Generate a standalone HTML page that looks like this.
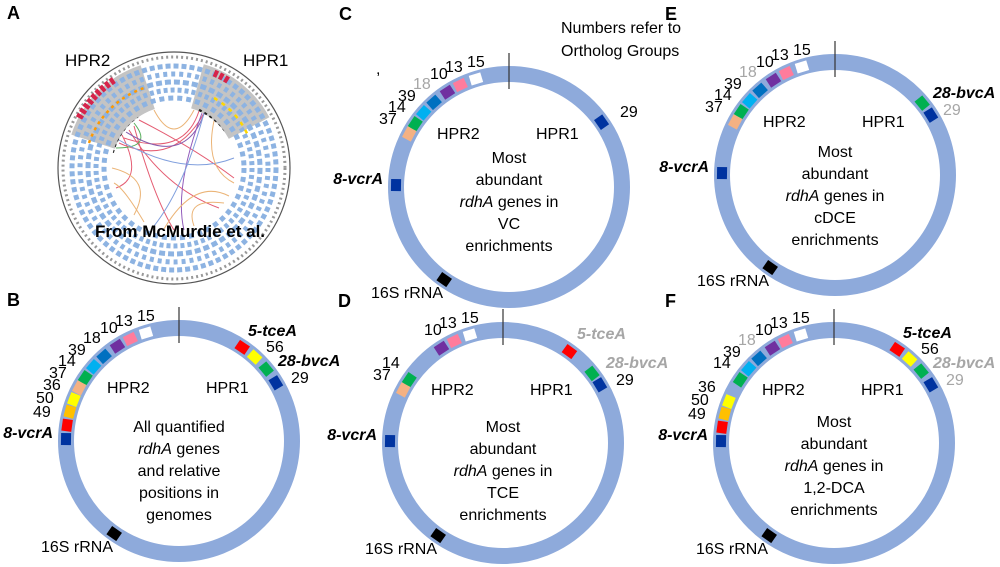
<!DOCTYPE html>
<html><head><meta charset="utf-8"><style>
html,body{margin:0;padding:0;background:#fff;}
svg{display:block;font-family:"Liberation Sans",sans-serif;}
.n{font-size:16px;fill:#000;}
.g{fill:#a6a6a6;}
.b{font-weight:bold;font-style:italic;}
.c{font-size:16px;text-anchor:middle;}
.L{font-size:18px;font-weight:bold;}
</style></head><body>
<svg width="1000" height="567" viewBox="0 0 1000 567" xmlns="http://www.w3.org/2000/svg">
<defs>
<g id="ring">
<circle r="113" fill="none" stroke="#8eaadb" stroke-width="16"/>
<line x1="0" y1="-134" x2="0" y2="-98" stroke="#333" stroke-width="1.2"/>
<rect x="-6" y="-118" width="12" height="10" fill="#000" transform="rotate(-145)"/>
<text class="n" x="-138" y="111">16S rRNA</text>
<text class="n" x="-72" y="-48">HPR2</text>
<text class="n" x="27" y="-48">HPR1</text>
<rect x="-6" y="-118" width="12" height="10" fill="#0033a0" transform="rotate(-89)"/>
<text class="n b" x="-126" y="-3" text-anchor="end">8-<tspan>vcrA</tspan></text>
<rect x="-6" y="-118" width="12" height="10" fill="#fff" transform="rotate(-17)"/>
<rect x="-6" y="-118" width="12" height="10" fill="#ff7c9c" transform="rotate(-25.5)"/>
<rect x="-6" y="-118" width="12" height="10" fill="#7030a0" transform="rotate(-33)"/>
<text class="n" x="-42" y="-120">15</text>
<text class="n" x="-64" y="-115">13</text>
<text class="n" x="-79" y="-108">10</text>
</g>
<g id="m18"><rect x="-6" y="-118" width="12" height="10" fill="#0070c0" transform="rotate(-41.5)"/></g>
<g id="m39"><rect x="-6" y="-118" width="12" height="10" fill="#00b0f0" transform="rotate(-49)"/><text class="n" x="-111" y="-86">39</text></g>
<g id="m14"><rect x="-6" y="-118" width="12" height="10" fill="#00b050" transform="rotate(-56)"/><text class="n" x="-121" y="-75">14</text></g>
<g id="m37"><rect x="-6" y="-118" width="12" height="10" fill="#f4b183" transform="rotate(-62)"/><text class="n" x="-130" y="-63">37</text></g>
<g id="m365049">
<rect x="-6" y="-118" width="12" height="10" fill="#ffff00" transform="rotate(-68.5)"/>
<rect x="-6" y="-118" width="12" height="10" fill="#ffc000" transform="rotate(-75)"/>
<rect x="-6" y="-118" width="12" height="10" fill="#ff0000" transform="rotate(-82)"/>
<text class="n" x="-136" y="-51">36</text>
<text class="n" x="-143" y="-38">50</text>
<text class="n" x="-146" y="-24">49</text>
</g>
<g id="r5"><rect x="-6" y="-118" width="12" height="10" fill="#ff0000" transform="rotate(34)"/></g>
<g id="r56"><rect x="-6" y="-118" width="12" height="10" fill="#ffff00" transform="rotate(42)"/><text class="n" x="87" y="-89">56</text></g>
<g id="r28"><rect x="-6" y="-118" width="12" height="10" fill="#00b050" transform="rotate(50.5)"/></g>
<g id="r29"><rect x="-6" y="-118" width="12" height="10" fill="#0033a0" transform="rotate(59)"/></g>
</defs>

<!-- Panel letters -->
<text class="L" x="7" y="19">A</text>
<text class="L" x="7" y="306">B</text>
<text class="L" x="339" y="20">C</text>
<text class="L" x="338" y="307">D</text>
<text class="L" x="665" y="20">E</text>
<text class="L" x="665" y="307">F</text>

<text class="n" x="561" y="33">Numbers refer to</text>
<text class="n" x="561" y="56">Ortholog Groups</text>
<text class="n" x="376" y="74" font-size="12">,</text>

<!-- Panel A -->
<g transform="translate(174,168)">
<circle r="116" fill="none" stroke="#555" stroke-width="1.2"/>
<circle r="111" fill="none" stroke="#999" stroke-width="3" stroke-dasharray="2 3"/>
<path d="M-102.7,-33.4 A108,108 0 0 1 -33.4,-102.7 L-19.2,-59 A62,62 0 0 0 -59,-19.2Z" fill="#c4c4c4"/>
<path d="M29.8,-103.8 A108,108 0 0 1 95.4,-50.7 L54.7,-29.1 A62,62 0 0 0 17.1,-59.6Z" fill="#c4c4c4"/>
<g fill="none" stroke="#8db3e2" stroke-width="5">
<circle r="102" stroke-dasharray="5 3"/>
<circle r="94" stroke-dasharray="4 4"/>
<circle r="86" stroke-dasharray="6 3"/>
<circle r="78" stroke-dasharray="4 3"/>
<circle r="70" stroke-dasharray="5 4"/>
</g>
<g fill="none" stroke="#d6244a" stroke-width="7" stroke-dasharray="4 2">
<path d="M-95,-50 A108,108 0 0 1 -60,-88"/>
<path d="M40,-95 A103,103 0 0 1 55,-87"/>
</g>
<g fill="none" stroke-width="2.5">
<path d="M-85,-25 A88,88 0 0 1 -30,-80" stroke="#ff9900" stroke-dasharray="3 4"/>
<path d="M40,-70 A80,80 0 0 1 75,-30" stroke="#ffd800" stroke-dasharray="4 5"/>
<path d="M-60,-15 A62,62 0 0 1 -35,-50" stroke="#222" stroke-dasharray="3 3"/>
<path d="M25,-58 A62,62 0 0 1 50,-35" stroke="#222" stroke-dasharray="3 3"/>
</g>
<circle r="62" fill="#fff"/>
<g fill="none" stroke-width="1" opacity="0.85">
<path d="M-55,-25 Q0,0 30,-55" stroke="#e0405a"/>
<path d="M-50,-30 Q10,-10 25,-57" stroke="#e0405a"/>
<path d="M-45,-38 Q-10,20 45,40" stroke="#e0405a"/>
<path d="M-40,-42 Q-20,30 0,62" stroke="#e0405a"/>
<path d="M-52,-33 Q-30,10 -58,20" stroke="#e0405a"/>
<path d="M-35,-48 Q20,-20 60,10" stroke="#e0405a"/>
<path d="M-58,-20 Q-20,-20 -40,-45" stroke="#3aa040"/>
<path d="M-48,-36 Q10,0 30,-54" stroke="#7040a0"/>
<path d="M28,-55 Q0,20 10,62" stroke="#8040b0"/>
<path d="M30,-55 Q10,20 -20,58" stroke="#6b8fd8"/>
<path d="M-55,-28 Q10,10 60,-10" stroke="#6b8fd8"/>
<path d="M-20,-58 Q0,-20 20,-58" stroke="#e8a860"/>
<path d="M40,-47 Q30,0 60,15" stroke="#e8a860"/>
<path d="M-62,0 Q-20,10 -40,47" stroke="#e8a860"/>
<path d="M20,58 Q10,30 50,35" stroke="#e8a860"/>
<path d="M-10,61 Q20,10 55,28" stroke="#e8a860"/>
<path d="M-30,54 Q-50,20 -60,15" stroke="#e8a860"/>
</g>
</g>
<text x="65" y="66" font-size="17">HPR2</text>
<text x="243" y="66" font-size="17">HPR1</text>
<text x="95" y="237" font-size="17" font-weight="bold">From McMurdie et al.</text>

<!-- Panel B -->
<g transform="translate(179,441)">
<use href="#ring"/><use href="#m18"/><text class="n" x="-96" y="-98">18</text>
<use href="#m39"/><use href="#m14"/><use href="#m37"/><use href="#m365049"/>
<use href="#r5"/><text class="n b" x="69" y="-105">5-tceA</text>
<use href="#r56"/><use href="#r28"/><text class="n b" x="99" y="-75">28-bvcA</text>
<use href="#r29"/><text class="n" x="112" y="-58">29</text>
<text class="c" y="-9">All quantified</text>
<text class="c" y="13"><tspan font-style="italic">rdhA</tspan> genes</text>
<text class="c" y="35">and relative</text>
<text class="c" y="57">positions in</text>
<text class="c" y="79">genomes</text>
</g>

<!-- Panel C -->
<g transform="translate(509,187)">
<use href="#ring"/><use href="#m18"/><text class="n g" x="-96" y="-98">18</text>
<use href="#m39"/><use href="#m14"/><use href="#m37"/>
<rect x="-6" y="-118" width="12" height="10" fill="#0033a0" transform="rotate(55)"/>
<text class="n" x="111" y="-70">29</text>
<text class="c" y="-24">Most</text>
<text class="c" y="-2">abundant</text>
<text class="c" y="20"><tspan font-style="italic">rdhA</tspan> genes in</text>
<text class="c" y="42">VC</text>
<text class="c" y="64">enrichments</text>
</g>

<!-- Panel D -->
<g transform="translate(503,443)">
<use href="#ring"/><use href="#m14"/><use href="#m37"/>
<rect x="-6" y="-118" width="12" height="10" fill="#ff0000" transform="rotate(36)"/>
<text class="n b g" x="74" y="-104">5-tceA</text>
<rect x="-6" y="-118" width="12" height="10" fill="#00b050" transform="rotate(52)"/>
<text class="n b g" x="103" y="-75">28-bvcA</text>
<use href="#r29"/><text class="n" x="113" y="-58">29</text>
<text class="c" y="-11">Most</text>
<text class="c" y="11">abundant</text>
<text class="c" y="33"><tspan font-style="italic">rdhA</tspan> genes in</text>
<text class="c" y="55">TCE</text>
<text class="c" y="77">enrichments</text>
</g>

<!-- Panel E -->
<g transform="translate(835,175)">
<use href="#ring"/><use href="#m18"/><text class="n g" x="-96" y="-98">18</text>
<use href="#m39"/><use href="#m14"/><use href="#m37"/>
<use href="#r28"/><text class="n b" x="98" y="-77">28-bvcA</text>
<rect x="-6" y="-118" width="12" height="10" fill="#0033a0" transform="rotate(58)"/>
<text class="n g" x="108" y="-60">29</text>
<text class="c" y="-18">Most</text>
<text class="c" y="4">abundant</text>
<text class="c" y="26"><tspan font-style="italic">rdhA</tspan> genes in</text>
<text class="c" y="48">cDCE</text>
<text class="c" y="70">enrichments</text>
</g>

<!-- Panel F -->
<g transform="translate(834,443)">
<use href="#ring"/><use href="#m18"/><text class="n g" x="-96" y="-98">18</text>
<use href="#m39"/><use href="#m14"/><use href="#m365049"/>
<use href="#r5"/><text class="n b" x="69" y="-105">5-tceA</text>
<use href="#r56"/><use href="#r28"/><text class="n b g" x="99" y="-75">28-bvcA</text>
<use href="#r29"/><text class="n g" x="112" y="-58">29</text>
<text class="c" y="-16">Most</text>
<text class="c" y="6">abundant</text>
<text class="c" y="28"><tspan font-style="italic">rdhA</tspan> genes in</text>
<text class="c" y="50">1,2-DCA</text>
<text class="c" y="72">enrichments</text>
</g>
</svg>
</body></html>
